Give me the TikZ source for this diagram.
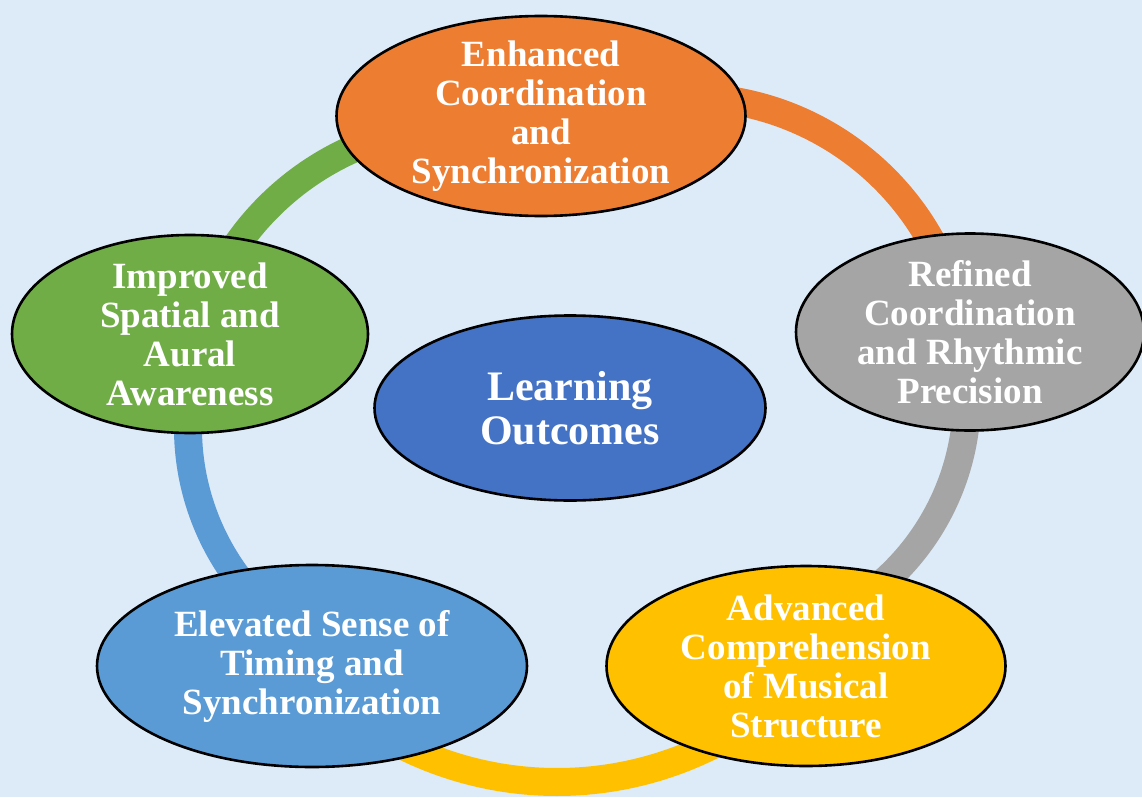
\documentclass[tikz,border=0pt]{standalone}
\usepackage{fontspec}
\setmainfont{Liberation Serif}
\usetikzlibrary{shapes.geometric}
\pgfdeclarelayer{back}
\pgfdeclarelayer{bg}
\pgfsetlayers{back,bg,main}
\definecolor{bgblue}{RGB}{221,235,249}
\definecolor{cOrange}{RGB}{237,125,49}
\definecolor{cGray}{RGB}{165,165,165}
\definecolor{cYellow}{RGB}{255,192,0}
\definecolor{cLight}{RGB}{91,155,213}
\definecolor{cGreen}{RGB}{112,173,71}
\definecolor{cCenter}{RGB}{68,114,196}
\begin{document}
\begin{tikzpicture}[x=1pt,y=-1pt,
  blob/.style={ellipse, draw=black, line width=2.6pt, inner sep=0pt},
  lbl/.style={text=white, font=\bfseries\fontsize{37}{39}\selectfont, align=center, inner sep=0pt},
  biglbl/.style={text=white, font=\bfseries\fontsize{42}{44}\selectfont, align=center, inner sep=0pt},
  ring/.style={line width=28pt}]
\useasboundingbox (0,0) rectangle (1142,797);
\begin{pgfonlayer}{back}
\fill[bgblue] (0,0) rectangle (1142,797);
\end{pgfonlayer}
\clip (0,0) rectangle (1142,797);
% outer nodes
\node[blob, fill=cOrange, minimum width=409pt, minimum height=200pt] (top) at (541,116) {};
\node[blob, fill=cGray, minimum width=348pt, minimum height=197pt] (right) at (970,332) {};
\node[blob, fill=cYellow, minimum width=399pt, minimum height=200pt] (bright) at (806,666) {};
\node[blob, fill=cLight, minimum width=430pt, minimum height=202pt] (bleft) at (312,666) {};
\node[blob, fill=cGreen, minimum width=356pt, minimum height=198pt] (left) at (190,334) {};
\node[blob, fill=cCenter, minimum width=391pt, minimum height=185pt] (center) at (570,408) {};
% labels
\node[lbl] (topT) at (top.center) {Enhanced\\Coordination\\and\\Synchronization};
\node[lbl] (rightT) at (right.center) {Refined\\Coordination\\and Rhythmic\\Precision};
\node[lbl] (brightT) at (bright.center) {Advanced\\Comprehension\\of Musical\\Structure};
\node[lbl] (bleftT) at (bleft.center) {Elevated Sense of\\Timing and\\Synchronization};
\node[lbl] (leftT) at (left.center) {Improved\\Spatial and\\Aural\\Awareness};
\node[biglbl] (centerT) at (center.center) {Learning\\Outcomes};
% centres of the connecting arcs
\coordinate (oc) at (687,376);
\coordinate (gc) at (720,397);
\coordinate (yc) at (557,436);
\coordinate (lc) at (438,428);
\coordinate (ec) at (466,404);
% ring arcs behind the nodes
\begin{pgfonlayer}{bg}
\draw[ring, cOrange] ([shift={(95:279pt)}]oc) arc[start angle=95, end angle=15, radius=279pt];
\draw[ring, cGray] ([shift={(15:247pt)}]gc) arc[start angle=15, end angle=-60, radius=247pt];
\draw[ring, cYellow] ([shift={(-55:346pt)}]yc) arc[start angle=-55, end angle=-125, radius=346pt];
\draw[ring, cLight] ([shift={(235:250pt)}]lc) arc[start angle=235, end angle=160, radius=250pt];
\draw[ring, cGreen] ([shift={(165:279pt)}]ec) arc[start angle=165, end angle=95, radius=279pt];
\end{pgfonlayer}
\end{tikzpicture}
\end{document}
